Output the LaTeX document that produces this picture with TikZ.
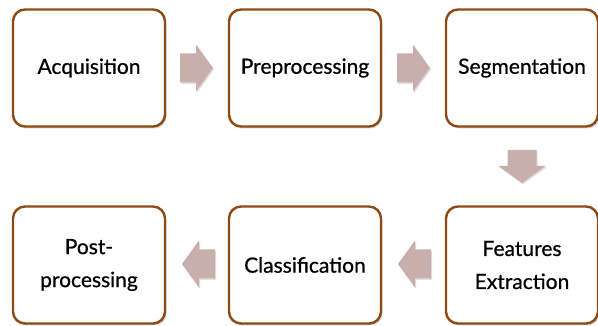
\documentclass[tikz,border=0pt]{standalone}
\usepackage{fontspec}
\setmainfont{Lato}
\newfontfamily\boxfont{Lato}[FakeBold=0.7]
\usetikzlibrary{shadows}
\definecolor{boxbrown}{HTML}{8E4A14}
\definecolor{arrowfill}{HTML}{C9AFAB}
\begin{document}
\begin{tikzpicture}[x=1pt,y=-1pt,
  stepbox/.style={draw=boxbrown,line width=2.4pt,rounded corners=12pt,fill=white,
    minimum width=152pt,minimum height=117pt,align=center,font=\boxfont\fontsize{21}{33}\selectfont,
    drop shadow={shadow xshift=1.5pt,shadow yshift=-2pt,opacity=0.35}},
  flowarr/.pic={
    \fill[arrowfill,drop shadow={shadow xshift=1pt,shadow yshift=-1.5pt,opacity=0.25}]
      (-16,-14.5) -- (0,-14.5) -- (0,-23.5) -- (17,0) -- (0,23.5) -- (0,14.5) -- (-16,14.5) -- cycle;
  }]
\useasboundingbox (0,0) rectangle (598,326);
\node[stepbox] (acq) at (89,68) {Acquisition};
\node[stepbox] (pre) at (305,68) {Preprocessing};
\node[stepbox] (seg) at (522,68) {Segmentation};
\node[stepbox] (fea) at (522,265) {Features\\Extraction};
\node[stepbox] (cla) at (305,265) {Classification};
\node[stepbox] (pos) at (89,265) {Post-\\processing};
\pic (a1) at (196,68) {flowarr};
\pic (a2) at (413,68) {flowarr};
\pic[rotate=-90] (a3) at (522,166) {flowarr};
\pic[rotate=180] (a4) at (415,264) {flowarr};
\pic[rotate=180] (a5) at (199,264) {flowarr};
\end{tikzpicture}
\end{document}
